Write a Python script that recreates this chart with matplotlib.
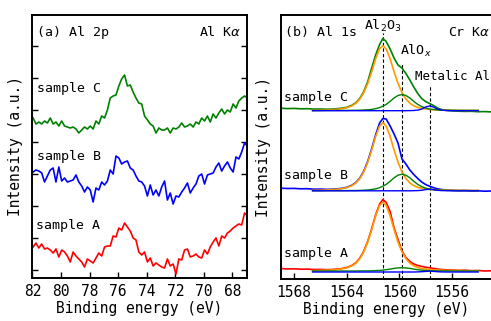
import numpy as np
import matplotlib
matplotlib.use("Agg")
import matplotlib.pyplot as plt

plt.rcParams['font.family'] = ['DejaVu Sans Mono']
plt.rcParams['mathtext.fontset'] = 'dejavusans'

W, H = 491, 321

# ---- (a) Al 2p, Al K-alpha : raw spectra (offset, a.u.) ----
e_2p = np.round(81.95 - 0.2 * np.arange(76), 2)

al2p_C = [162, 156, 158, 156, 159, 157, 162, 156, 158, 154,
          159, 154, 153, 152, 153, 151, 147, 150, 153, 151,
          154, 151, 159, 156, 164, 162, 170, 182, 184, 185,
          194, 201, 205, 194, 195, 188, 182, 177, 176, 164,
          160, 156, 154, 147, 152, 150, 150, 152, 147, 152,
          151, 153, 157, 153, 154, 156, 153, 158, 156, 162,
          159, 164, 158, 166, 162, 167, 171, 166, 170, 168,
          176, 172, 179, 182, 184, 182]
al2p_B = [108, 110, 109, 107, 98, 104, 110, 112, 98, 113,
          99, 102, 98, 99, 100, 105, 98, 94, 88, 93,
          90, 78, 92, 90, 98, 95, 99, 110, 106, 124,
          122, 116, 118, 119, 112, 110, 104, 99, 98, 94,
          84, 95, 85, 90, 84, 93, 99, 80, 87, 76,
          84, 83, 88, 92, 97, 87, 92, 96, 104, 106,
          96, 105, 106, 107, 113, 117, 109, 114, 118, 112,
          108, 123, 121, 128, 137, 134]
al2p_A = [33, 37, 32, 36, 31, 32, 30, 27, 31, 23,
          30, 28, 24, 18, 28, 24, 21, 18, 13, 21,
          19, 17, 22, 27, 24, 33, 34, 34, 44, 43,
          52, 50, 57, 53, 49, 42, 40, 28, 25, 28,
          18, 22, 14, 17, 15, 13, 12, 21, 14, 16,
          6, 21, 20, 30, 31, 23, 24, 26, 23, 22,
          30, 26, 33, 38, 42, 34, 44, 42, 47, 49,
          52, 54, 56, 55, 67, 64]

# ---- (b) Al 1s, Cr K-alpha : measured spectra ----
e_1s = [1569.0, 1568.5, 1568.0, 1567.5, 1567.0, 1566.5, 1566.0, 1565.5, 1565.0,
        1564.4, 1564.0, 1563.6, 1563.3, 1563.0, 1562.7, 1562.4, 1562.1, 1561.8,
        1561.5, 1561.25, 1561.0, 1560.7, 1560.4, 1560.1, 1559.8, 1559.5, 1559.2,
        1558.9, 1558.6, 1558.3, 1558.0, 1557.7, 1557.4, 1557.1, 1556.8, 1556.4,
        1556.0, 1555.5, 1555.0, 1554.5, 1554.0, 1553.5, 1553.0]
al1s_C = [171.8, 171.4, 171.6, 171.2, 171.3, 170.9, 171.0, 170.7, 171.0,
          171.8, 172.6, 174.8, 177.4, 181.7, 188.5, 198.5, 212.0, 225.0,
          235.5, 241.5, 238.5, 231.0, 222.0, 215.0, 212.0, 206.5, 200.0,
          193.0, 186.5, 181.5, 178.5, 176.5, 174.5, 172.0, 170.5, 169.6,
          169.2, 168.8, 168.6, 168.7, 168.3, 168.4, 168.1]
al1s_B = [91.8, 91.5, 91.6, 91.2, 91.3, 90.8, 90.9, 90.6, 90.8,
          91.6, 92.7, 94.8, 97.6, 102.0, 109.0, 118.8, 131.3, 145.2,
          157.0, 161.5, 161.0, 154.0, 146.0, 137.0, 121.0, 116.0, 110.0,
          105.5, 101.5, 98.0, 95.5, 93.8, 92.3, 91.2, 90.5, 90.0,
          89.7, 89.4, 89.5, 89.1, 89.2, 88.8, 89.0]
al1s_A = [11.5, 11.0, 11.2, 10.8, 10.9, 10.5, 10.6, 10.3, 10.6,
          11.4, 12.5, 14.6, 17.4, 22.0, 29.0, 38.8, 51.4, 65.2,
          76.0, 80.5, 77.5, 68.5, 52.0, 40.5, 29.0, 22.5, 18.5,
          16.0, 14.5, 13.6, 12.8, 12.2, 11.6, 11.0, 10.5, 10.2,
          10.0, 9.6, 9.8, 9.3, 9.5, 9.0, 9.2]

# fitted components (Al2O3 / AlOx / metallic Al)
e_fit = [1566.6, 1566.0, 1565.4, 1564.8, 1564.4, 1564.0, 1563.6, 1563.3, 1563.0,
         1562.7, 1562.4, 1562.1, 1561.8, 1561.5, 1561.25, 1561.0, 1560.7, 1560.4,
         1560.1, 1559.8, 1559.5, 1559.2, 1558.9, 1558.6, 1558.3, 1558.0, 1557.7,
         1557.4, 1557.1, 1556.8, 1556.4, 1556.0, 1555.4, 1554.8, 1554.0]
oxide_C = [169.6, 169.8, 170.1, 170.6, 171.3, 172.2, 174.2, 176.8, 181.0,
           187.5, 196.6, 208.3, 221.3, 231.1, 234.3, 231.1, 221.3, 208.3,
           196.6, 187.5, 181.0, 176.8, 174.2, 172.6, 171.6, 171.1, 170.6,
           170.3, 170.1, 170.0, 169.9, 169.8, 169.7, 169.6, 169.6]
oxide_B = [89.6, 89.8, 90.1, 90.7, 91.3, 92.4, 94.4, 97.1, 101.5,
           108.3, 117.9, 130.1, 143.7, 153.9, 157.3, 153.9, 143.7, 130.1,
           117.9, 108.3, 101.5, 97.1, 94.4, 92.7, 91.7, 91.1, 90.7,
           90.4, 90.2, 90.0, 89.9, 89.8, 89.7, 89.6, 89.6]
oxide_A = [9.3, 9.6, 9.8, 10.4, 11.1, 12.1, 14.2, 16.9, 21.4,
           28.3, 38.0, 50.4, 64.2, 74.6, 78.0, 74.6, 64.2, 50.4,
           38.0, 28.3, 21.4, 16.9, 14.2, 12.5, 11.5, 10.9, 10.4,
           10.1, 9.9, 9.8, 9.6, 9.6, 9.4, 9.3, 9.3]
alox_C = [169.5, 169.5, 169.6, 169.6, 169.6, 169.6, 169.7, 169.7, 169.8,
          170.0, 170.2, 170.6, 171.3, 172.4, 173.8, 175.6, 178.6, 182.0,
          184.5, 185.5, 184.5, 182.0, 178.6, 175.6, 173.5, 172.0, 171.0,
          170.5, 170.1, 169.9, 169.8, 169.7, 169.6, 169.6, 169.6]
alox_B = [89.3, 89.3, 89.4, 89.4, 89.4, 89.4, 89.5, 89.5, 89.6,
          89.8, 90.0, 90.5, 91.1, 92.3, 93.8, 95.6, 98.7, 102.2,
          104.8, 105.8, 104.8, 102.2, 98.7, 95.6, 93.4, 91.9, 90.9,
          90.3, 90.0, 89.7, 89.6, 89.5, 89.4, 89.4, 89.4]
alox_A = [9.0, 9.0, 9.0, 9.0, 9.0, 9.0, 9.0, 9.0, 9.1,
          9.1, 9.1, 9.2, 9.4, 9.6, 9.9, 10.3, 10.9, 11.6,
          12.1, 12.3, 12.1, 11.6, 10.9, 10.3, 9.8, 9.5, 9.3,
          9.2, 9.1, 9.1, 9.1, 9.0, 9.0, 9.0, 9.0]
metal_C = [169.3, 169.3, 169.3, 169.3, 169.3, 169.3, 169.3, 169.3, 169.3,
           169.3, 169.3, 169.3, 169.3, 169.3, 169.3, 169.3, 169.3, 169.3,
           169.3, 169.3, 169.3, 169.4, 169.5, 169.9, 170.9, 173.0, 174.0,
           173.0, 170.9, 169.9, 169.4, 169.3, 169.3, 169.3, 169.3]
metal_B = [89.2, 89.2, 89.2, 89.2, 89.2, 89.2, 89.2, 89.2, 89.2,
           89.2, 89.2, 89.2, 89.2, 89.2, 89.2, 89.2, 89.2, 89.2,
           89.2, 89.2, 89.2, 89.2, 89.3, 89.4, 89.7, 90.4, 90.7,
           90.4, 89.7, 89.4, 89.3, 89.2, 89.2, 89.2, 89.2]
metal_A = [8.0, 8.0, 8.0, 8.0, 8.0, 8.0, 8.0, 8.0, 8.0,
           8.0, 8.0, 8.0, 8.0, 8.0, 8.0, 8.0, 8.0, 8.0,
           8.0, 8.0, 8.0, 8.0, 8.0, 8.1, 8.3, 8.6, 8.8,
           8.6, 8.3, 8.1, 8.0, 8.0, 8.0, 8.0, 8.0]

peak_pos = [1561.25, 1559.8, 1557.7]
peak_top = [247, 217, 195]

GREEN, BLUE, RED, ORANGE = '#008000', '#0000ff', '#ff0000', '#ff9a00'
FS = 9.5


def px(x0, y0, x1, y1):
    return [x0 / W, 1 - y1 / H, (x1 - x0) / W, (y1 - y0) / H]


fig = plt.figure(figsize=(W / 100, H / 100), dpi=100)
ax1 = fig.add_axes(px(32.4, 15, 246.7, 278))
ax2 = fig.add_axes(px(281, 15, 492, 279))

for ax in (ax1, ax2):
    for s in ax.spines.values():
        s.set_linewidth(1.4)
    ax.tick_params(direction='in', length=4, width=1.0, labelsize=FS + 1, pad=4)

# (a)
ax1.plot(e_2p, al2p_C, color=GREEN, lw=1.2)
ax1.plot(e_2p, al2p_B, color=BLUE, lw=1.2)
ax1.plot(e_2p, al2p_A, color=RED, lw=1.2)
ax1.set_xlim(82, 67)
ax1.set_ylim(2, 265)
ax1.set_xticks(np.arange(82, 67, -2))
ax1.set_yticks(np.arange(10, 265, 32))
ax1.tick_params(axis='y', left=True, right=True, labelleft=False)
ax1.set_ylabel('Intensity (a.u.)', fontsize=FS + 1, labelpad=7)
ax1.set_xlabel('Binding energy (eV)', fontsize=FS + 1, labelpad=2)

# (b)
ax2.vlines(peak_pos, 1, peak_top, colors='k', linestyles=(0, (3, 2)), lw=0.8, zorder=1)
for data, col in ((al1s_C, GREEN), (al1s_B, BLUE), (al1s_A, RED)):
    ax2.plot(e_1s, data, color=col, lw=1.2, zorder=2)
for comps in ((oxide_C, alox_C, metal_C), (oxide_B, alox_B, metal_B), (oxide_A, alox_A, metal_A)):
    ax2.plot(e_fit, comps[0], color=ORANGE, lw=1.2, zorder=3)
    ax2.plot(e_fit, comps[1], color=GREEN, lw=1.0, zorder=3)
    ax2.plot(e_fit, comps[2], color=BLUE, lw=1.0, zorder=3)
ax2.set_xlim(1569, 1552.95)
ax2.set_ylim(1, 265)
ax2.set_xticks([1568, 1564, 1560, 1556])
ax2.set_yticks([])
ax2.spines['right'].set_visible(False)
ax2.set_xlabel('Binding energy (eV)', fontsize=FS + 1, labelpad=2)
ax2.set_ylabel('Intensity (a.u.)', fontsize=FS + 1, labelpad=7)


def label(x, y, s, size=FS, **kw):
    fig.text(x / W, 1 - y / H, s, fontsize=size, va='center', **kw)


label(37, 32.5, '(a) Al 2p')
label(241, 32.5, r'Al K$\alpha$', ha='right')
label(37, 88.5, 'sample C')
label(37, 157, 'sample B')
label(36, 226, 'sample A')

label(285, 32.5, '(b) Al 1s')
label(490, 32.5, r'Cr K$\alpha$', ha='right')
label(382.5, 26, r'Al$_2$O$_3$', ha='center')
label(416, 51, r'AlO$_x$', ha='center')
label(415, 77, 'Metalic Al', size=FS - 0.5)
label(284, 97.5, 'sample C')
label(284, 176, 'sample B')
label(284, 254, 'sample A')

fig.savefig('out.png', dpi=100)
